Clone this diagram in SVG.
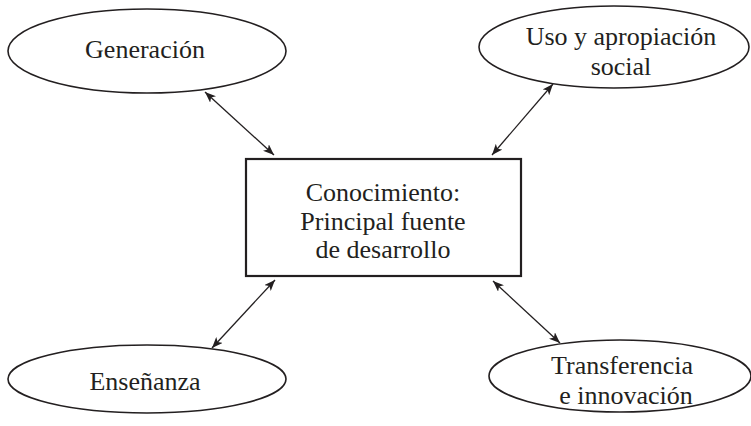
<svg xmlns="http://www.w3.org/2000/svg" width="751" height="426" viewBox="0 0 751 426">
<style>
.shape{fill:#fff;stroke:#231f20;stroke-width:1.6}
.box{fill:#fff;stroke:#231f20;stroke-width:2.2}
.lbl{font-family:"Liberation Serif","Times New Roman",serif;font-size:26px;fill:#231f20;text-anchor:middle}
.conn{stroke:#231f20;stroke-width:1.3;fill:none;marker-start:url(#ah);marker-end:url(#ah)}
</style>
<defs>
<marker id="ah" viewBox="0 0 10 8" refX="10" refY="4" markerWidth="11" markerHeight="9" markerUnits="userSpaceOnUse" orient="auto-start-reverse">
<path d="M0,0 L10,4 L0,8 L2.5,4 Z" fill="#231f20"/>
</marker>
</defs>
<rect width="751" height="426" fill="#fff"/>
<g id="connectors">
<line class="conn" x1="205" y1="92" x2="274" y2="155"/>
<line class="conn" x1="553" y1="84" x2="492" y2="155"/>
<line class="conn" x1="275" y1="280" x2="212" y2="348"/>
<line class="conn" x1="493" y1="281" x2="560" y2="343"/>
</g>
<g id="center">
<rect class="box" x="246" y="159" width="275" height="117"/>
<text class="lbl" x="383" y="201">Conocimiento:</text>
<text class="lbl" x="383" y="229.5">Principal fuente</text>
<text class="lbl" x="383" y="258">de desarrollo</text>
</g>
<g id="generacion">
<ellipse class="shape" cx="147" cy="51" rx="139" ry="42"/>
<text class="lbl" x="145" y="58">Generación</text>
</g>
<g id="uso">
<ellipse class="shape" cx="614" cy="47" rx="135" ry="41"/>
<text class="lbl" x="621" y="45">Uso y apropiación</text>
<text class="lbl" x="621" y="74.5">social</text>
</g>
<g id="ensenanza">
<ellipse class="shape" cx="147" cy="379" rx="139" ry="34"/>
<text class="lbl" x="145" y="390">Enseñanza</text>
</g>
<g id="transferencia">
<ellipse class="shape" cx="620" cy="376" rx="131" ry="36"/>
<text class="lbl" x="622" y="374">Transferencia</text>
<text class="lbl" x="626" y="403.5">e innovación</text>
</g>
</svg>
